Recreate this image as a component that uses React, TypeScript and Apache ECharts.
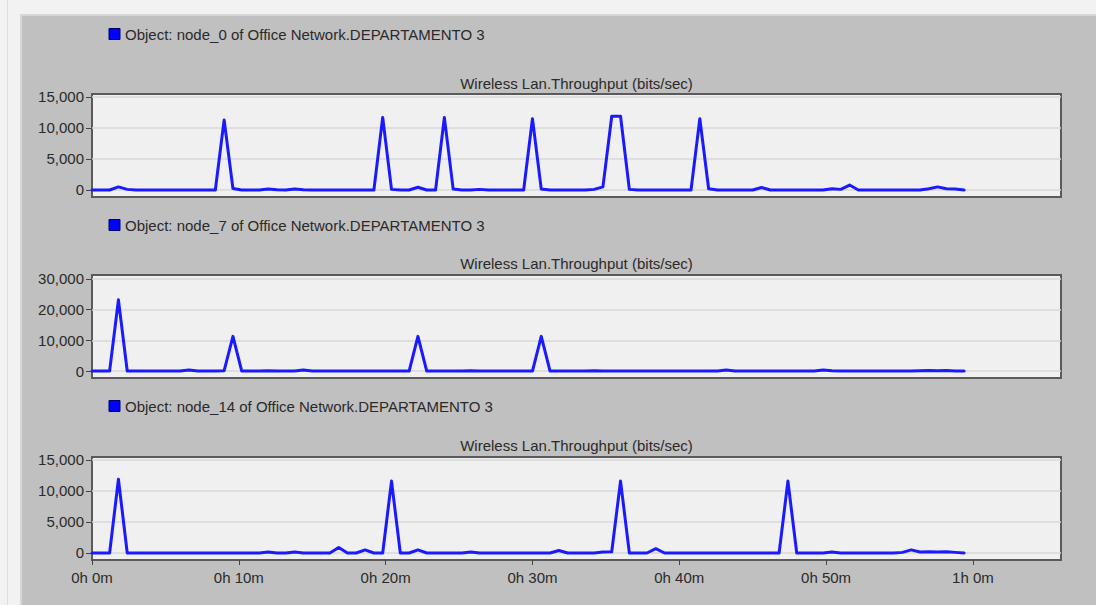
import React, { useEffect, useRef } from "react";
import * as echarts from "echarts";

// ---- data ----
const SAMPLE_MINUTES = 0.6; // one collected value every 36 s

const SERIES_NAMES = [
  "Object: node_0 of Office Network.DEPARTAMENTO 3",
  "Object: node_7 of Office Network.DEPARTAMENTO 3",
  "Object: node_14 of Office Network.DEPARTAMENTO 3",
];
const PANEL_TITLE = "Wireless Lan.Throughput (bits/sec)";

const NODE_0 = [
  0, 0, 0, 500, 100, 0, 0, 0, 0, 0,
  0, 0, 0, 0, 0, 11300, 250, 0, 0, 0,
  150, 50, 0, 150, 50, 0, 0, 0, 0, 0,
  0, 0, 0, 11700, 100, 0, 0, 450, 0, 0,
  11700, 150, 0, 0, 100, 0, 0, 0, 0, 0,
  11500, 150, 0, 0, 0, 0, 0, 100, 500, 11900,
  11900, 100, 0, 0, 0, 0, 0, 0, 0, 11500,
  200, 0, 0, 0, 0, 0, 400, 0, 0, 0,
  0, 0, 0, 0, 200, 100, 800, 0, 0, 0,
  0, 0, 0, 0, 0, 200, 500, 200, 150, 0,
];

const NODE_7 = [
  0, 0, 0, 23200, 0, 0, 0, 0, 0, 0,
  0, 300, 0, 0, 0, 100, 11300, 0, 0, 0,
  100, 0, 0, 0, 300, 0, 0, 0, 0, 0,
  0, 0, 0, 0, 0, 0, 0, 11300, 0, 0,
  0, 0, 0, 100, 0, 0, 0, 0, 0, 0,
  0, 11300, 0, 0, 0, 0, 0, 100, 0, 0,
  0, 0, 0, 0, 0, 0, 0, 0, 0, 0,
  0, 0, 300, 0, 0, 0, 0, 0, 0, 0,
  0, 0, 0, 300, 50, 0, 0, 0, 0, 0,
  0, 0, 0, 0, 100, 150, 100, 150, 0, 0,
];

const NODE_14 = [
  0, 0, 0, 11900, 0, 0, 0, 0, 0, 0,
  0, 0, 0, 0, 0, 0, 0, 0, 0, 0,
  150, 0, 0, 150, 0, 0, 0, 0, 900, 0,
  0, 500, 0, 0, 11600, 0, 0, 500, 0, 0,
  0, 0, 0, 150, 0, 0, 0, 0, 0, 0,
  0, 0, 0, 400, 0, 0, 0, 0, 150, 200,
  11600, 0, 0, 0, 700, 0, 0, 0, 0, 0,
  0, 0, 0, 0, 0, 0, 0, 0, 0, 11600,
  0, 0, 0, 0, 150, 0, 0, 0, 0, 0,
  0, 0, 100, 500, 150, 200, 150, 200, 100, 0,
];

const X_TICKS = [0, 10, 20, 30, 40, 50, 60];
const X_MAX = 66;
const Y_TICKS_15K = [0, 5000, 10000, 15000];
const Y_TICKS_30K = [0, 10000, 20000, 30000];
const Y_RANGE_15K = [-1130, 15480];
const Y_RANGE_30K = [-2280, 31300];

// ---- layout / style ----
const FONT = "'Liberation Sans', Arial, sans-serif";
const TEXT = "#2a2a2a";
const GRID_LEFT = 92;
const GRID_WIDTH = 969;
const GRID_HEIGHT = 103;
const GRID_TOPS = [94, 275, 457];
const LEGEND_TOPS = [26.5, 217.5, 398.5];
const TITLE_TOPS = [75.5, 256, 438];

const PANELS = [
  { values: NODE_0, ticks: Y_TICKS_15K, range: Y_RANGE_15K },
  { values: NODE_7, ticks: Y_TICKS_30K, range: Y_RANGE_30K },
  { values: NODE_14, ticks: Y_TICKS_15K, range: Y_RANGE_15K },
];

const fmtTime = (v: number) => `${Math.floor(v / 60)}h ${v % 60}m`;
const fmtNum = (v: number) => Number(v).toLocaleString("en-US");

function buildOption() {
  return {
    animation: false,
    backgroundColor: "#c0c0c0",
    graphic: [
      { type: "rect", shape: { x: 0, y: 0, width: 1096, height: 14 }, style: { fill: "#f2f2f2" }, silent: true },
      { type: "rect", shape: { x: 0, y: 0, width: 20, height: 605 }, style: { fill: "#f2f2f2" }, silent: true },
      { type: "line", shape: { x1: 20, y1: 15, x2: 1096, y2: 15 }, style: { stroke: "#d6d6d6", lineWidth: 2 }, silent: true },
      { type: "line", shape: { x1: 21, y1: 14, x2: 21, y2: 605 }, style: { stroke: "#d6d6d6", lineWidth: 2 }, silent: true },
      { type: "line", shape: { x1: 7.5, y1: 0, x2: 7.5, y2: 605 }, style: { stroke: "#dedede", lineWidth: 1 }, silent: true },
    ],
    title: PANELS.map((_, i) => ({
      text: PANEL_TITLE,
      left: GRID_LEFT + GRID_WIDTH / 2,
      top: TITLE_TOPS[i],
      textAlign: "center",
      padding: 0,
      textStyle: { fontSize: 15, fontWeight: "normal", color: TEXT, fontFamily: FONT },
    })),
    legend: PANELS.map((_, i) => ({
      data: [SERIES_NAMES[i]],
      left: 108.5,
      top: LEGEND_TOPS[i],
      padding: 0,
      icon: "rect",
      itemWidth: 11,
      itemHeight: 11,
      selectedMode: false,
      itemStyle: { color: "#0000ff", borderColor: "#000070", borderWidth: 1 },
      textStyle: { fontSize: 15, color: TEXT, fontFamily: FONT },
    })),
    grid: GRID_TOPS.map((top) => ({
      left: GRID_LEFT,
      top,
      width: GRID_WIDTH,
      height: GRID_HEIGHT,
      show: true,
      backgroundColor: "#f0f0f0",
      borderColor: "#5a5a5a",
      borderWidth: 2,
    })),
    xAxis: PANELS.map((_, i) => {
      const bottom = i === PANELS.length - 1;
      return {
        type: "value",
        gridIndex: i,
        min: 0,
        max: X_MAX,
        axisLine: { show: false, onZero: false },
        splitLine: { show: false },
        axisTick: bottom
          ? { show: true, customValues: X_TICKS, length: 5, lineStyle: { color: "#444444", width: 1 } }
          : { show: false },
        axisLabel: bottom
          ? { show: true, customValues: X_TICKS, formatter: fmtTime, margin: 10, fontSize: 15, color: TEXT, fontFamily: FONT }
          : { show: false },
      };
    }),
    yAxis: PANELS.map((p, i) => ({
      type: "value",
      gridIndex: i,
      min: p.range[0],
      max: p.range[1],
      axisLine: { show: false, onZero: false },
      splitLine: { show: false },
      axisTick: { show: true, customValues: p.ticks, length: 6, lineStyle: { color: "#444444", width: 1 } },
      axisLabel: { show: true, customValues: p.ticks, formatter: fmtNum, margin: 8, fontSize: 15, color: TEXT, fontFamily: FONT },
    })),
    series: PANELS.map((p, i) => ({
      type: "line",
      name: SERIES_NAMES[i],
      xAxisIndex: i,
      yAxisIndex: i,
      data: p.values.map((v, k) => [k * SAMPLE_MINUTES, v]),
      showSymbol: false,
      symbol: "none",
      z: 3,
      itemStyle: { color: "#0000ff" },
      lineStyle: { color: "#1a1aff", width: 3, cap: "round", join: "round" },
      markLine: {
        silent: true,
        z: 1,
        symbol: ["none", "none"],
        label: { show: false },
        lineStyle: { color: "#d8d8d8", width: 1.5, type: "solid" },
        emphasis: { disabled: true },
        data: p.ticks.map((t) => ({ yAxis: t })),
      },
    })),
  };
}

export default function App() {
  const ref = useRef<HTMLDivElement>(null);
  useEffect(() => {
    if (!ref.current) return;
    const chart = echarts.init(ref.current, null, { renderer: "svg" });
    chart.setOption(buildOption() as any);
    return () => chart.dispose();
  }, []);
  return (
    <div
      ref={ref}
      style={{ position: "absolute", left: 0, top: 0, width: 1096, height: 605 }}
    />
  );
}
